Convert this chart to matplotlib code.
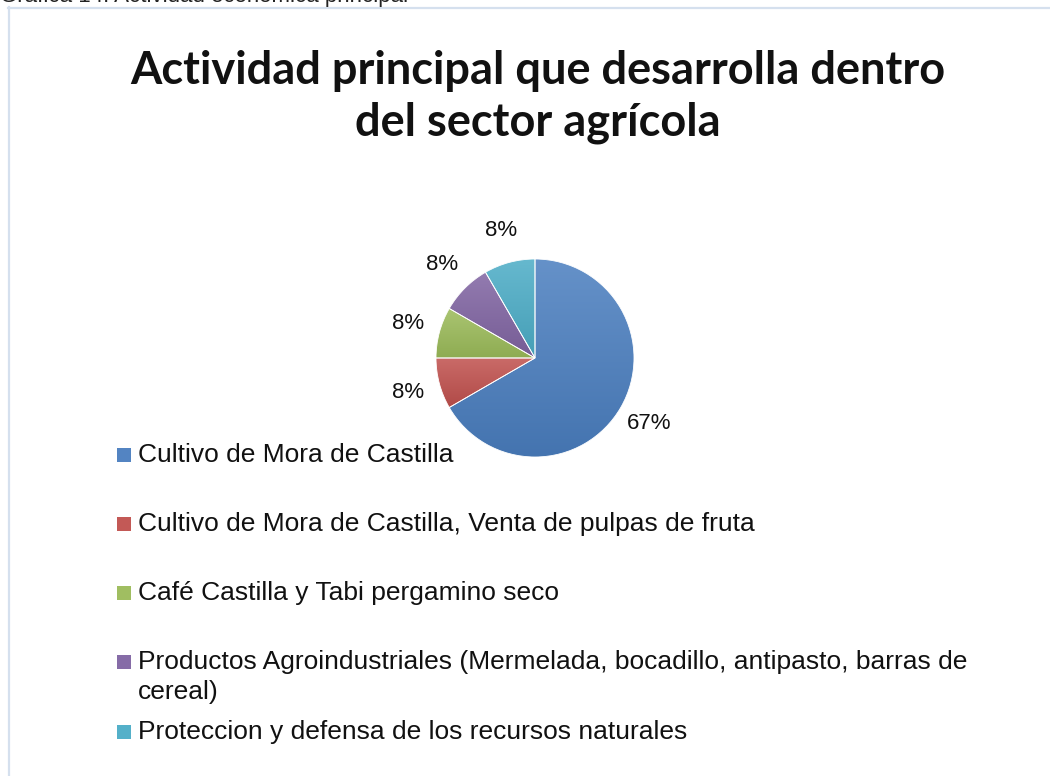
import numpy as np
import matplotlib
matplotlib.use("Agg")
import matplotlib.pyplot as plt
from matplotlib.colors import to_rgb, LinearSegmentedColormap
from matplotlib.patches import Rectangle
from matplotlib.lines import Line2D

# datos
categorias = [
    "Cultivo de Mora de Castilla",
    "Cultivo de Mora de Castilla, Venta de pulpas de fruta",
    "Café Castilla y Tabi pergamino seco",
    "Productos Agroindustriales (Mermelada, bocadillo, antipasto, barras de\ncereal)",
    "Proteccion y defensa de los recursos naturales",
]
valores = [8, 1, 1, 1, 1]
colores = ["#4a7ebf", "#c0504d", "#9bbb59", "#8064a2", "#4bacc6"]

titulo = "Actividad principal que desarrolla dentro\ndel sector agrícola"
encabezado = "Gráfica 14. Actividad económica principal"

W, H = 1050, 776
fig = plt.figure(figsize=(W / 100, H / 100), dpi=100)
fig.patch.set_facecolor("white")

# borde del area del grafico (solo se ven arriba e izquierda)
borde = "#d5e0ee"
fig.add_artist(Line2D([8.5 / W, 8.5 / W], [0, 1 - 7 / H], color=borde, lw=1.6))
fig.add_artist(Line2D([8 / W, 1], [1 - 7.5 / H, 1 - 7.5 / H], color=borde, lw=1.6))

# encabezado cortado en la parte superior
fig.text(0.0, 1 - 2 / H, encabezado, fontsize=16, family="Liberation Sans",
         va="baseline", ha="left", color="#222222")

fig.text(538 / W, 1 - 97 / H, titulo, fontsize=32.5, fontweight="bold",
         family="Lato", ha="center", va="center", linespacing=1.28,
         color="#111111")

# pastel
cx, cy, r = 535, 358, 99
ax = fig.add_axes([(cx - r) / W, (H - cy - r) / H, 2 * r / W, 2 * r / H])
total = sum(valores)
pct = ["%d%%" % round(v * 100 / total) for v in valores]
wedges, textos = ax.pie(valores, colors=colores, startangle=90, counterclock=False,
                        labels=pct, labeldistance=1.33,
                        wedgeprops=dict(edgecolor="white", linewidth=0.6),
                        textprops=dict(fontsize=16, family="Liberation Sans",
                                       color="#111111"))
ax.set_aspect("auto")
for t in textos:
    t.set_ha("center")
    t.set_va("center")

# degradado vertical en cada porcion
def mezcla(c, f):
    c = np.array(to_rgb(c))
    if f > 0:
        return c + (1 - c) * f
    return c * (1 + f)

for w, c in zip(wedges, colores):
    ext = w.get_path().get_extents(w.get_patch_transform())
    cmap = LinearSegmentedColormap.from_list("g", [mezcla(c, -0.08), mezcla(c, 0.15)])
    grad = np.linspace(0, 1, 256).reshape(-1, 1)
    im = ax.imshow(grad, cmap=cmap, origin="lower", aspect="auto",
                   extent=(ext.x0, ext.x1, ext.y0, ext.y1), zorder=w.get_zorder())
    im.set_clip_path(w)
    w.set_facecolor("none")
    w.set_zorder(w.get_zorder() + 0.1)
ax.set_xlim(-1, 1)
ax.set_ylim(-1, 1)

# leyenda
filas = [455, 524, 593, 677, 732]
for nombre, c, y in zip(categorias, colores, filas):
    ym = y - 15 if "\n" in nombre else y
    fig.add_artist(Rectangle((117 / W, 1 - (ym + 7) / H), 14 / W, 14 / H,
                             facecolor=mezcla(c, 0.05), edgecolor="none"))
    fig.text(138 / W, 1 - y / H, nombre, fontsize=19, family="Liberation Sans",
             ha="left", va="center", linespacing=1.32, color="#111111")

fig.savefig("out.png", dpi=100, facecolor="white")
